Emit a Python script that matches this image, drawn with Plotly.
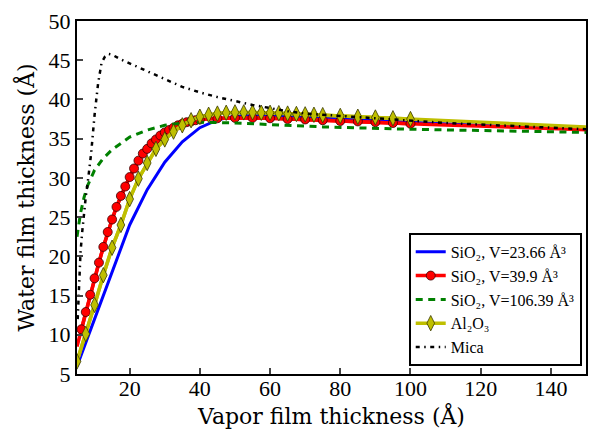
import plotly.graph_objects as go

# ---- data ----
blue_x = [5, 10, 15, 20, 25, 30, 35, 40, 45, 50, 55, 60, 70, 80, 90, 100, 110, 120, 130, 140, 150]
blue_y = [6.0, 12.0, 18.2, 24.0, 28.5, 32.0, 34.6, 36.4, 37.4, 37.85, 38.0, 38.0, 37.8, 37.55,
          37.3, 37.1, 36.9, 36.7, 36.5, 36.35, 36.2]

red_x = [5, 6.25, 7.5, 8.75, 10, 11.25, 12.5, 13.75, 15, 16.25, 17.5, 18.75, 20, 21.25, 22.5,
         23.75, 25, 26.25, 27.5, 28.75, 30, 31.25, 32.5, 33.75, 35, 36.25, 37.5, 38.75, 40,
         45, 50, 55, 60, 65, 70, 75, 80, 85, 90, 95, 100, 110, 120, 130, 140, 150]
red_y = [8.5, 10.7, 12.9, 15.1, 17.2, 19.2, 21.2, 23.1, 24.7, 26.3, 27.7, 28.9, 30.1, 31.2, 32.2,
         33.1, 33.7, 34.4, 34.9, 35.4, 35.8, 36.1, 36.4, 36.7, 36.9, 37.1, 37.2, 37.35, 37.45,
         37.6, 37.65, 37.65, 37.6, 37.5, 37.45, 37.35, 37.25, 37.2, 37.1, 37.0, 36.9, 36.75,
         36.6, 36.45, 36.3, 36.15]

green_x = [5, 6, 7, 8, 10, 12.5, 15, 20, 25, 30, 35, 40, 50, 60, 75, 100, 125, 150]
green_y = [22.5, 25.5, 27.5, 29.0, 31.0, 32.5, 33.6, 35.2, 36.1, 36.7, 37.0, 37.1, 37.0, 36.8,
           36.5, 36.2, 36.0, 35.8]

al_x = [5, 7.5, 10, 12.5, 15, 17.5, 20, 22.5, 25, 27.5, 30, 32.5, 35, 37.5, 40, 42.5, 45, 47.5,
        50, 52.5, 55, 57.5, 60, 62.5, 65, 67.5, 70, 72.5, 75, 80, 85, 90, 95, 100,
        110, 120, 130, 140, 150]
al_y = [6.6, 10.1, 13.8, 17.6, 21.1, 24.0, 27.3, 29.9, 31.9, 33.7, 34.9, 35.9, 36.7, 37.35, 37.8,
        38.05, 38.2, 38.3, 38.35, 38.35, 38.35, 38.3, 38.3, 38.25, 38.2, 38.15, 38.1, 38.05, 38.0,
        37.9, 37.8, 37.7, 37.6, 37.5, 37.3, 37.1, 36.9, 36.7, 36.5]

mica_x = [5.2, 5.5, 6, 6.5, 7, 7.5, 8, 9, 10, 11, 12, 13, 14, 15, 17.5, 20, 25, 30, 35, 40, 45,
          50, 55, 60, 65, 70, 80, 90, 100, 110, 120, 130, 140, 150]
mica_y = [12.0, 16.0, 20.5, 23.2, 25.6, 27.6, 29.2, 33.0, 38.0, 42.0, 44.7, 45.5, 45.8, 45.7,
          45.1, 44.6, 43.6, 42.5, 41.6, 40.9, 40.3, 39.8, 39.3, 38.9, 38.5, 38.2, 37.9, 37.6,
          37.3, 37.0, 36.8, 36.6, 36.4, 36.2]

marker_max_x = 100  # markers drawn only up to this vapor thickness
x_ticks = [20, 40, 60, 80, 100, 120, 140]
y_ticks = [5, 10, 15, 20, 25, 30, 35, 40, 45, 50]

names = ["SiO₂, V=23.66 Å³",
         "SiO₂, V=39.9 Å³",
         "SiO₂, V=106.39 Å³",
         "Al₂O₃",
         "Mica"]

def subset(xs, ys, lo, hi):
    pts = [(a, b) for a, b in zip(xs, ys) if lo <= a <= hi]
    return [p[0] for p in pts], [p[1] for p in pts]

fig = go.Figure()

fig.add_trace(go.Scatter(x=blue_x, y=blue_y, mode="lines", name=names[0],
                         line=dict(color="#0000ff", width=3)))

rx, ry = subset(red_x, red_y, 6, marker_max_x)
fig.add_trace(go.Scatter(x=red_x, y=red_y, mode="lines", showlegend=False,
                         line=dict(color="#ff0000", width=3.5), hoverinfo="skip"))
fig.add_trace(go.Scatter(x=rx, y=ry, mode="lines+markers", name=names[1],
                         line=dict(color="#ff0000", width=3.5),
                         marker=dict(symbol="circle", size=9, color="#ff0000",
                                     line=dict(color="#3a0000", width=0.8))))

fig.add_trace(go.Scatter(x=green_x, y=green_y, mode="lines", name=names[2],
                         line=dict(color="#008000", width=3, dash="7px,5.5px")))

ax_, ay_ = subset(al_x, al_y, 5.1, marker_max_x)
fig.add_trace(go.Scatter(x=al_x, y=al_y, mode="lines", showlegend=False,
                         line=dict(color="#bfbf00", width=3.5), hoverinfo="skip"))
fig.add_trace(go.Scatter(x=[al_x[0]] + ax_, y=[al_y[0]] + ay_, mode="lines+markers", name=names[3],
                         line=dict(color="#bfbf00", width=3.5),
                         marker=dict(symbol="diamond-tall", size=11, color="#bfbf00",
                                     line=dict(color="#3a3a00", width=0.8))))

fig.add_trace(go.Scatter(x=mica_x, y=mica_y, mode="lines", name=names[4],
                         line=dict(color="black", width=2.5, dash="4px,4.5px,1.5px,4.5px")))

tick_font = "Liberation Serif"
title_font = "DejaVu Serif"
fig.update_layout(
    width=590, height=433,
    margin=dict(l=77, r=2, t=21, b=59),
    plot_bgcolor="white", paper_bgcolor="white",
    font=dict(family=tick_font, color="black"),
    showlegend=True,
    legend=dict(x=0.9916, xanchor="right", y=0.023, yanchor="bottom",
                bordercolor="black", borderwidth=2, bgcolor="white",
                font=dict(family=tick_font, size=16, color="black"),
                itemwidth=30, tracegroupgap=0),
)
fig.update_xaxes(range=[5, 150], tickvals=x_ticks, ticks="inside", ticklen=6, tickwidth=1.5,
                 showline=True, linecolor="black", linewidth=2, mirror=True, showgrid=False,
                 zeroline=False, tickfont=dict(size=22, family=tick_font), ticklabelstandoff=-6,
                 title=dict(text="Vapor film thickness (Å)", font=dict(size=22, family=title_font),
                            standoff=8))
fig.update_yaxes(range=[5, 50], tickvals=y_ticks, ticks="inside", ticklen=6, tickwidth=1.5,
                 showline=True, linecolor="black", linewidth=2, mirror=True, showgrid=False,
                 zeroline=False, tickfont=dict(size=22, family=tick_font),
                 title=dict(text="Water film thickness (Å)", font=dict(size=22, family=title_font),
                            standoff=8))

fig.write_html("out.html", config={"displayModeBar": False},
               post_script="document.body.style.margin='0';document.body.style.padding='0';")
